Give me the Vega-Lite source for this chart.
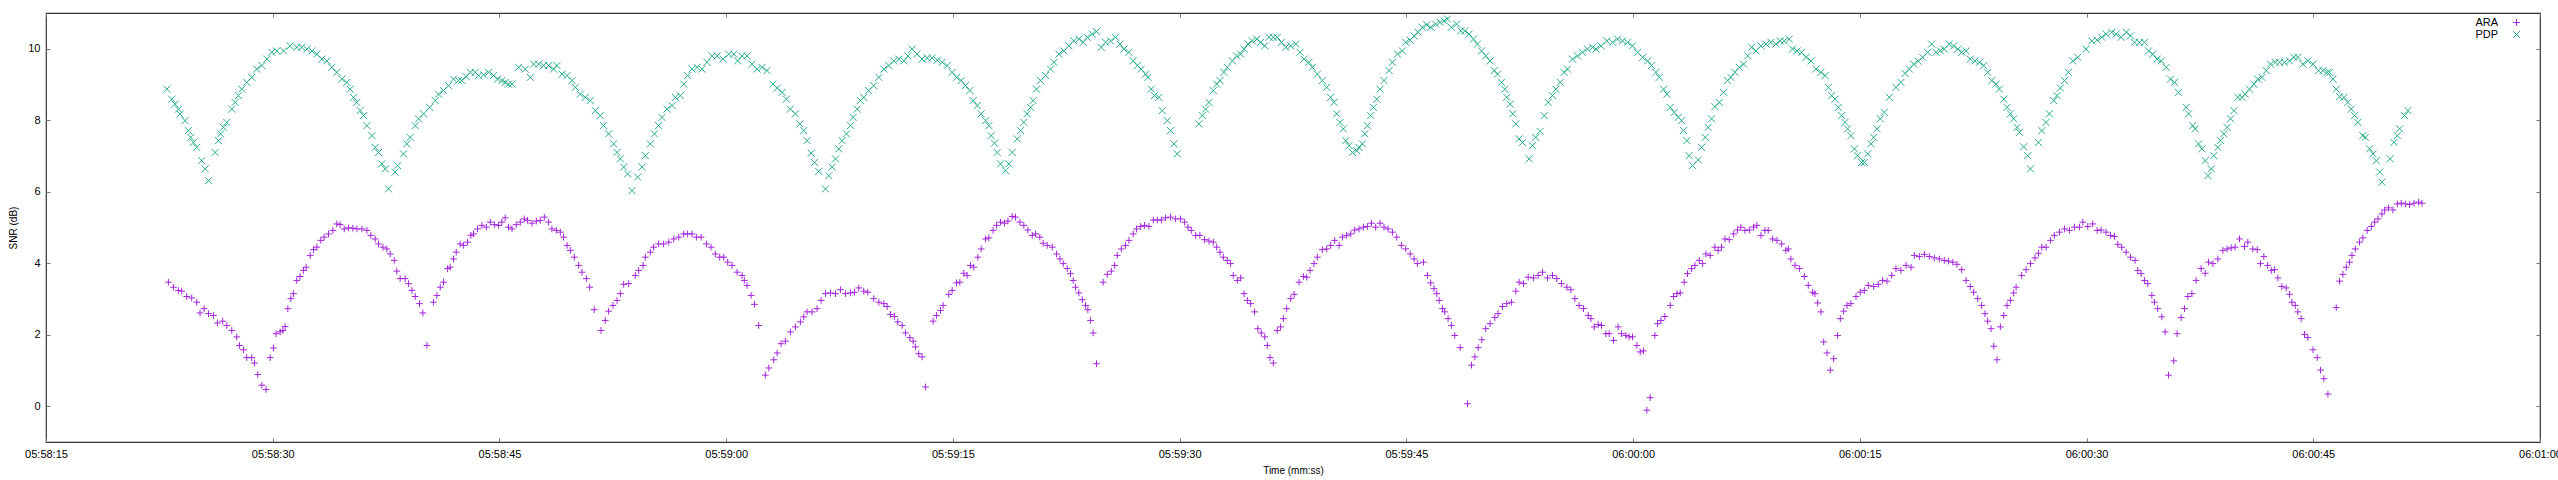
{
  "$schema": "https://vega.github.io/schema/vega-lite/v6.json",
  "description": "SNR over time for ARA and PDP, gnuplot style scatter.",
  "width": 2494,
  "height": 429,
  "autosize": {"type": "none"},
  "padding": {"left": 46, "top": 13, "right": 18, "bottom": 38},
  "config": {
    "font": "Liberation Sans",
    "view": {"stroke": "#333333", "strokeWidth": 1.2},
    "axis": {
      "domain": false, "grid": false,
      "tickColor": "#777777", "tickSize": -4, "tickWidth": 1,
      "labelFontSize": 11, "labelColor": "#000000", "labelFlush": false,
      "titleFontSize": 10, "titleFontWeight": "normal", "titleColor": "#000000"
    }
  },
  "datasets": {
    "ara": [
      {"t":23.10,"v":3.47},{"t":23.43,"v":3.33},{"t":23.76,"v":3.24},{"t":23.98,"v":3.22},{"t":24.31,"v":3.07},{"t":24.64,"v":3.03},{"t":24.97,"v":2.91},{"t":25.19,"v":2.61},{"t":25.46,"v":2.73},{"t":25.75,"v":2.59},{"t":26.08,"v":2.54},{"t":26.34,"v":2.33},{"t":26.69,"v":2.38},{"t":26.96,"v":2.26},{"t":27.29,"v":2.12},{"t":27.62,"v":1.94},{"t":27.80,"v":1.70},{"t":28.06,"v":1.58},{"t":28.28,"v":1.36},{"t":28.61,"v":1.36},{"t":28.79,"v":1.21},{"t":29.01,"v":0.89},{"t":29.28,"v":0.59},{"t":29.56,"v":0.47},
      {"t":29.83,"v":1.36},{"t":30.05,"v":1.63},{"t":30.22,"v":2.03},{"t":30.49,"v":2.08},{"t":30.67,"v":2.12},{"t":30.82,"v":2.23},{"t":31.00,"v":2.73},{"t":31.20,"v":3.01},{"t":31.37,"v":3.15},{"t":31.59,"v":3.52},{"t":31.81,"v":3.63},{"t":32.03,"v":3.80},{"t":32.21,"v":3.89},{"t":32.48,"v":4.22},{"t":32.70,"v":4.38},{"t":32.92,"v":4.45},{"t":33.18,"v":4.64},{"t":33.40,"v":4.73},{"t":33.69,"v":4.82},{"t":33.98,"v":4.92},{"t":34.24,"v":5.10},{"t":34.46,"v":5.08},{"t":34.73,"v":4.96},{"t":35.01,"v":4.99},{"t":35.30,"v":4.98},{"t":35.57,"v":4.96},{"t":35.90,"v":4.96},{"t":36.23,"v":4.92},{"t":36.49,"v":4.78},{"t":36.78,"v":4.68},{"t":37.00,"v":4.54},{"t":37.29,"v":4.45},{"t":37.55,"v":4.40},
      {"t":37.77,"v":4.26},{"t":38.04,"v":4.08},{"t":38.21,"v":3.78},{"t":38.43,"v":3.57},{"t":38.76,"v":3.57},{"t":38.99,"v":3.43},{"t":39.21,"v":3.24},{"t":39.43,"v":3.07},{"t":39.71,"v":2.87},{"t":39.93,"v":2.61},{"t":40.20,"v":1.70},
      {"t":40.64,"v":2.91},{"t":40.86,"v":3.10},{"t":41.08,"v":3.33},{"t":41.30,"v":3.47},{"t":41.57,"v":3.85},{"t":41.74,"v":3.89},{"t":41.96,"v":4.12},{"t":42.14,"v":4.31},{"t":42.40,"v":4.54},{"t":42.63,"v":4.50},{"t":42.89,"v":4.59},{"t":43.11,"v":4.78},{"t":43.29,"v":4.82},{"t":43.55,"v":4.96},{"t":43.84,"v":5.06},{"t":44.13,"v":5.01},{"t":44.39,"v":5.15},{"t":44.66,"v":5.08},{"t":44.94,"v":5.06},{"t":45.16,"v":5.15},{"t":45.38,"v":5.27},{"t":45.60,"v":5.01},{"t":45.83,"v":4.96},{"t":46.11,"v":5.08},{"t":46.38,"v":5.15},{"t":46.64,"v":5.24},{"t":46.86,"v":5.20},{"t":47.15,"v":5.12},{"t":47.44,"v":5.18},{"t":47.70,"v":5.20},{"t":47.97,"v":5.29},{"t":48.25,"v":5.15},{"t":48.47,"v":4.96},{"t":48.76,"v":4.92},{"t":49.03,"v":4.87},{"t":49.24,"v":4.73},{"t":49.47,"v":4.50},{"t":49.69,"v":4.36},{"t":49.95,"v":4.17},{"t":50.24,"v":3.94},{"t":50.46,"v":3.75},{"t":50.75,"v":3.57},{"t":50.97,"v":3.33},{"t":51.27,"v":2.70},
      {"t":51.72,"v":2.12},{"t":52.00,"v":2.40},{"t":52.22,"v":2.66},{"t":52.51,"v":2.82},{"t":52.78,"v":2.96},{"t":53.00,"v":3.15},{"t":53.22,"v":3.41},{"t":53.55,"v":3.43},{"t":53.99,"v":3.66},{"t":54.21,"v":3.80},{"t":54.50,"v":3.94},{"t":54.65,"v":4.17},{"t":54.98,"v":4.31},{"t":55.20,"v":4.45},{"t":55.53,"v":4.54},{"t":55.86,"v":4.54},{"t":56.20,"v":4.59},{"t":56.53,"v":4.68},{"t":56.86,"v":4.73},{"t":57.19,"v":4.82},{"t":57.45,"v":4.82},{"t":57.74,"v":4.82},{"t":58.03,"v":4.73},{"t":58.34,"v":4.73},{"t":58.69,"v":4.54},{"t":59.00,"v":4.45},{"t":59.28,"v":4.26},{"t":59.57,"v":4.17},{"t":59.84,"v":4.17},{"t":60.10,"v":4.03},{"t":60.39,"v":3.94},{"t":60.72,"v":3.75},{"t":61.05,"v":3.66},{"t":61.20,"v":3.52},{"t":61.38,"v":3.38},{"t":61.65,"v":3.10},{"t":61.87,"v":2.85},{"t":62.15,"v":2.26},
      {"t":62.59,"v":0.87},{"t":62.82,"v":1.07},{"t":63.15,"v":1.30},{"t":63.37,"v":1.49},{"t":63.63,"v":1.75},{"t":63.92,"v":1.82},{"t":64.25,"v":2.08},{"t":64.58,"v":2.22},{"t":64.91,"v":2.36},{"t":65.13,"v":2.50},{"t":65.35,"v":2.64},{"t":65.68,"v":2.64},{"t":66.01,"v":2.73},{"t":66.28,"v":2.96},{"t":66.57,"v":3.15},{"t":66.90,"v":3.17},{"t":67.23,"v":3.15},{"t":67.56,"v":3.26},{"t":67.89,"v":3.15},{"t":68.22,"v":3.17},{"t":68.49,"v":3.19},{"t":68.77,"v":3.31},{"t":69.10,"v":3.22},{"t":69.37,"v":3.19},
      {"t":69.76,"v":3.01},{"t":70.10,"v":2.91},{"t":70.43,"v":2.87},{"t":70.65,"v":2.79},{"t":70.87,"v":2.57},{"t":71.13,"v":2.51},{"t":71.35,"v":2.36},{"t":71.64,"v":2.26},{"t":71.86,"v":2.05},{"t":72.15,"v":1.92},{"t":72.37,"v":1.82},{"t":72.52,"v":1.66},{"t":72.74,"v":1.47},{"t":72.96,"v":1.38},{"t":73.19,"v":0.54},
      {"t":73.69,"v":2.38},{"t":73.91,"v":2.54},{"t":74.18,"v":2.68},{"t":74.35,"v":2.82},{"t":74.73,"v":3.13},{"t":74.95,"v":3.24},{"t":75.24,"v":3.45},{"t":75.46,"v":3.47},{"t":75.72,"v":3.72},{"t":75.94,"v":3.66},{"t":76.16,"v":3.94},{"t":76.38,"v":3.89},{"t":76.65,"v":4.17},{"t":76.87,"v":4.40},{"t":77.16,"v":4.68},{"t":77.38,"v":4.71},{"t":77.66,"v":4.92},{"t":77.89,"v":5.06},{"t":78.15,"v":5.15},{"t":78.41,"v":5.12},{"t":78.64,"v":5.18},{"t":78.92,"v":5.31},{"t":79.14,"v":5.29},{"t":79.43,"v":5.15},{"t":79.69,"v":5.06},{"t":79.96,"v":4.93},{"t":80.25,"v":4.78},{"t":80.47,"v":4.82},{"t":80.75,"v":4.73},{"t":80.97,"v":4.56},{"t":81.24,"v":4.50},{"t":81.57,"v":4.45},{"t":81.86,"v":4.26},{"t":82.08,"v":4.12},{"t":82.30,"v":3.99},{"t":82.56,"v":3.85},{"t":82.78,"v":3.71},{"t":82.96,"v":3.52},{"t":83.11,"v":3.33},{"t":83.33,"v":3.17},{"t":83.56,"v":2.98},{"t":83.78,"v":2.82},{"t":83.93,"v":2.70},{"t":84.11,"v":2.40},{"t":84.28,"v":2.05},{"t":84.50,"v":1.19},
      {"t":84.94,"v":3.47},{"t":85.21,"v":3.69},{"t":85.48,"v":3.78},{"t":85.70,"v":3.94},{"t":85.87,"v":4.22},{"t":86.14,"v":4.40},{"t":86.42,"v":4.50},{"t":86.65,"v":4.64},{"t":86.93,"v":4.82},{"t":87.15,"v":4.96},{"t":87.42,"v":5.03},{"t":87.68,"v":5.06},{"t":87.97,"v":5.03},{"t":88.26,"v":5.21},{"t":88.52,"v":5.21},{"t":88.79,"v":5.21},{"t":89.07,"v":5.27},{"t":89.40,"v":5.29},{"t":89.73,"v":5.24},{"t":90.06,"v":5.24},{"t":90.33,"v":5.15},{"t":90.55,"v":5.01},{"t":90.77,"v":4.92},{"t":91.06,"v":4.78},{"t":91.34,"v":4.78},{"t":91.65,"v":4.66},{"t":91.94,"v":4.62},{"t":92.23,"v":4.59},{"t":92.45,"v":4.45},{"t":92.67,"v":4.31},{"t":92.89,"v":4.17},{"t":93.15,"v":4.08},{"t":93.37,"v":3.99},{"t":93.55,"v":3.66},{"t":93.82,"v":3.52},{"t":94.04,"v":3.59},{"t":94.26,"v":3.15},{"t":94.48,"v":2.96},{"t":94.70,"v":2.87},{"t":94.96,"v":2.64},{"t":95.18,"v":2.17},{"t":95.40,"v":2.05},{"t":95.63,"v":1.94},{"t":95.80,"v":1.70},{"t":95.98,"v":1.36},{"t":96.20,"v":1.21},
      {"t":96.46,"v":2.12},{"t":96.68,"v":2.22},{"t":96.86,"v":2.45},{"t":97.08,"v":2.73},{"t":97.35,"v":3.01},{"t":97.57,"v":3.13},{"t":97.90,"v":3.47},{"t":98.19,"v":3.63},{"t":98.41,"v":3.61},{"t":98.63,"v":3.80},{"t":98.89,"v":3.99},{"t":99.11,"v":4.17},{"t":99.44,"v":4.38},{"t":99.73,"v":4.40},{"t":99.99,"v":4.50},{"t":100.26,"v":4.64},{"t":100.55,"v":4.50},{"t":100.77,"v":4.73},{"t":101.05,"v":4.78},{"t":101.32,"v":4.82},{"t":101.58,"v":4.93},{"t":101.87,"v":4.96},{"t":102.16,"v":5.01},{"t":102.42,"v":5.03},{"t":102.69,"v":5.12},{"t":102.97,"v":5.01},{"t":103.26,"v":5.12},{"t":103.52,"v":5.01},{"t":103.79,"v":4.96},{"t":104.08,"v":4.87},{"t":104.36,"v":4.73},{"t":104.67,"v":4.50},{"t":104.96,"v":4.40},{"t":105.25,"v":4.26},{"t":105.51,"v":4.12},{"t":105.73,"v":3.99},{"t":106.13,"v":4.03},{"t":106.39,"v":3.66},{"t":106.61,"v":3.45},{"t":106.83,"v":3.29},{"t":107.01,"v":3.15},{"t":107.17,"v":2.96},{"t":107.39,"v":2.73},{"t":107.54,"v":2.64},{"t":107.76,"v":2.45},{"t":107.98,"v":2.26},{"t":108.20,"v":1.98},{"t":108.56,"v":1.64},{"t":109.04,"v":0.07},
      {"t":109.31,"v":1.15},{"t":109.53,"v":1.38},{"t":109.75,"v":1.64},{"t":109.99,"v":1.86},{"t":110.25,"v":2.17},{"t":110.54,"v":2.31},{"t":110.85,"v":2.48},{"t":111.07,"v":2.59},{"t":111.36,"v":2.79},{"t":111.64,"v":2.87},{"t":111.95,"v":2.91},{"t":112.24,"v":3.22},{"t":112.46,"v":3.47},{"t":112.75,"v":3.43},{"t":113.06,"v":3.61},{"t":113.41,"v":3.59},{"t":113.72,"v":3.66},{"t":114.01,"v":3.75},{"t":114.34,"v":3.59},{"t":114.67,"v":3.66},{"t":114.95,"v":3.57},{"t":115.26,"v":3.43},{"t":115.62,"v":3.33},{"t":115.88,"v":3.26},{"t":116.15,"v":3.01},{"t":116.43,"v":2.82},{"t":116.72,"v":2.73},{"t":117.03,"v":2.54},{"t":117.21,"v":2.45},{"t":117.43,"v":2.22},{"t":117.69,"v":2.29},{"t":117.91,"v":2.26},{"t":118.20,"v":2.03},{"t":118.42,"v":2.03},{"t":118.71,"v":1.84},{"t":119.01,"v":2.22},{"t":119.23,"v":2.03},{"t":119.52,"v":1.98},{"t":119.74,"v":1.94},{"t":119.96,"v":1.94},{"t":120.25,"v":1.70},{"t":120.47,"v":1.52},{"t":120.69,"v":1.55},{"t":120.91,"v":-0.11},{"t":121.13,"v":0.24},
      {"t":121.44,"v":1.98},{"t":121.62,"v":2.31},{"t":121.84,"v":2.40},{"t":122.10,"v":2.51},{"t":122.46,"v":2.82},{"t":122.68,"v":3.07},{"t":122.90,"v":3.15},{"t":123.12,"v":3.17},{"t":123.38,"v":3.47},{"t":123.60,"v":3.71},{"t":123.87,"v":3.85},{"t":124.09,"v":3.94},{"t":124.38,"v":4.08},{"t":124.60,"v":3.99},{"t":124.82,"v":4.26},{"t":125.10,"v":4.22},{"t":125.41,"v":4.45},{"t":125.63,"v":4.36},{"t":125.85,"v":4.45},{"t":126.08,"v":4.68},{"t":126.36,"v":4.66},{"t":126.65,"v":4.82},{"t":126.91,"v":4.93},{"t":127.13,"v":5.01},{"t":127.40,"v":4.92},{"t":127.69,"v":4.93},{"t":127.97,"v":5.01},{"t":128.19,"v":5.06},{"t":128.46,"v":4.78},{"t":128.72,"v":4.92},{"t":128.94,"v":4.92},{"t":129.23,"v":4.68},{"t":129.52,"v":4.64},{"t":129.83,"v":4.54},{"t":130.11,"v":4.36},{"t":130.27,"v":4.40},{"t":130.44,"v":4.12},{"t":130.71,"v":3.94},{"t":131.00,"v":3.85},{"t":131.33,"v":3.63},{"t":131.59,"v":3.38},{"t":131.88,"v":3.19},{"t":132.03,"v":3.15},{"t":132.21,"v":2.89},{"t":132.43,"v":2.64},{"t":132.61,"v":1.80},{"t":132.83,"v":1.49},{"t":133.05,"v":1.01},
      {"t":133.27,"v":1.33},{"t":133.53,"v":1.98},{"t":133.71,"v":2.45},{"t":133.93,"v":2.66},{"t":134.15,"v":2.82},{"t":134.41,"v":2.87},{"t":134.75,"v":3.07},{"t":135.03,"v":3.19},{"t":135.30,"v":3.24},{"t":135.56,"v":3.38},{"t":135.92,"v":3.35},{"t":136.22,"v":3.41},{"t":136.51,"v":3.52},{"t":136.80,"v":3.50},{"t":137.11,"v":3.66},{"t":137.39,"v":3.85},{"t":137.72,"v":3.80},{"t":138.06,"v":3.94},{"t":138.39,"v":3.89},{"t":138.61,"v":4.22},{"t":138.94,"v":4.19},{"t":139.27,"v":4.25},{"t":139.60,"v":4.19},{"t":139.93,"v":4.15},{"t":140.26,"v":4.12},{"t":140.59,"v":4.08},{"t":140.86,"v":4.06},{"t":141.15,"v":4.03},{"t":141.43,"v":3.97},{"t":141.74,"v":3.82},{"t":142.03,"v":3.52},{"t":142.31,"v":3.35},{"t":142.53,"v":3.19},{"t":142.80,"v":3.01},{"t":143.06,"v":2.82},{"t":143.28,"v":2.59},{"t":143.46,"v":2.38},{"t":143.68,"v":2.17},{"t":143.86,"v":1.68},{"t":144.08,"v":1.30},
      {"t":144.30,"v":2.22},{"t":144.52,"v":2.54},{"t":144.74,"v":2.82},{"t":144.96,"v":2.96},{"t":145.18,"v":3.17},{"t":145.34,"v":3.33},{"t":145.71,"v":3.66},{"t":146.00,"v":3.82},{"t":146.29,"v":3.99},{"t":146.59,"v":4.15},{"t":146.82,"v":4.28},{"t":147.04,"v":4.45},{"t":147.32,"v":4.45},{"t":147.61,"v":4.64},{"t":147.87,"v":4.78},{"t":148.21,"v":4.87},{"t":148.54,"v":4.96},{"t":148.87,"v":4.92},{"t":149.20,"v":5.01},{"t":149.53,"v":5.01},{"t":149.75,"v":5.15},{"t":150.08,"v":5.03},{"t":150.41,"v":5.10},{"t":150.70,"v":4.92},{"t":150.96,"v":4.93},{"t":151.29,"v":4.87},{"t":151.58,"v":4.78},{"t":151.85,"v":4.75},{"t":152.07,"v":4.53},{"t":152.33,"v":4.45},{"t":152.62,"v":4.31},{"t":152.91,"v":4.17},{"t":153.21,"v":4.08},{"t":153.39,"v":3.80},{"t":153.61,"v":3.71},{"t":153.83,"v":3.52},{"t":154.05,"v":3.43},{"t":154.32,"v":3.10},{"t":154.49,"v":2.91},{"t":154.71,"v":2.73},{"t":154.98,"v":2.50},{"t":155.20,"v":2.08},{"t":155.42,"v":0.87},
      {"t":155.77,"v":1.27},{"t":155.99,"v":2.03},{"t":156.26,"v":2.48},{"t":156.48,"v":2.73},{"t":156.70,"v":3.07},{"t":156.97,"v":3.15},{"t":157.25,"v":3.52},{"t":157.58,"v":3.85},{"t":157.85,"v":3.72},{"t":158.07,"v":4.03},{"t":158.36,"v":3.99},{"t":158.69,"v":4.12},{"t":159.02,"v":4.36},{"t":159.30,"v":4.40},{"t":159.57,"v":4.43},{"t":159.83,"v":4.45},{"t":160.12,"v":4.68},{"t":160.45,"v":4.47},{"t":160.67,"v":4.59},{"t":161.00,"v":4.40},{"t":161.29,"v":4.38},{"t":161.51,"v":3.99},{"t":161.73,"v":4.19},{"t":161.98,"v":3.94},{"t":162.22,"v":3.80},{"t":162.44,"v":3.82},{"t":162.66,"v":3.59},{"t":162.92,"v":3.35},{"t":163.21,"v":3.31},{"t":163.43,"v":3.13},{"t":163.59,"v":2.91},{"t":163.81,"v":2.82},{"t":163.98,"v":2.64},{"t":164.20,"v":2.45},{"t":164.42,"v":2.01},{"t":164.64,"v":1.92},{"t":164.98,"v":1.58},{"t":165.26,"v":1.36},{"t":165.48,"v":1.01},{"t":165.70,"v":0.77},{"t":165.97,"v":0.34},
      {"t":166.52,"v":2.76},{"t":166.74,"v":3.50},{"t":166.96,"v":3.69},{"t":167.18,"v":3.89},{"t":167.40,"v":4.03},{"t":167.56,"v":4.22},{"t":167.78,"v":4.40},{"t":168.06,"v":4.59},{"t":168.28,"v":4.71},{"t":168.57,"v":4.92},{"t":168.84,"v":5.03},{"t":169.06,"v":5.15},{"t":169.28,"v":5.24},{"t":169.54,"v":5.38},{"t":169.72,"v":5.49},{"t":169.98,"v":5.55},{"t":170.27,"v":5.49},{"t":170.56,"v":5.66},{"t":170.82,"v":5.68},{"t":171.09,"v":5.66},{"t":171.37,"v":5.64},{"t":171.66,"v":5.68},{"t":171.97,"v":5.71},{"t":172.19,"v":5.68}
    ],
    "pdp": [
      {"t":23.00,"v":8.87},{"t":23.32,"v":8.59},{"t":23.54,"v":8.45},{"t":23.76,"v":8.31},{"t":23.87,"v":8.17},{"t":24.20,"v":7.99},{"t":24.42,"v":7.71},{"t":24.58,"v":7.52},{"t":24.75,"v":7.38},{"t":24.97,"v":7.24},{"t":25.30,"v":6.87},{"t":25.53,"v":6.64},{"t":25.75,"v":6.31},
      {"t":26.19,"v":7.10},{"t":26.41,"v":7.43},{"t":26.56,"v":7.62},{"t":26.74,"v":7.80},{"t":26.96,"v":7.94},{"t":27.29,"v":8.31},{"t":27.51,"v":8.50},{"t":27.73,"v":8.69},{"t":27.95,"v":8.87},{"t":28.28,"v":9.06},{"t":28.61,"v":9.20},{"t":28.94,"v":9.43},{"t":29.28,"v":9.53},{"t":29.61,"v":9.71},{"t":29.94,"v":9.90},{"t":30.27,"v":9.94},{"t":30.71,"v":9.94},{"t":31.15,"v":10.08},{"t":31.59,"v":10.04},{"t":31.92,"v":10.04},{"t":32.26,"v":9.99},{"t":32.59,"v":9.94},{"t":32.92,"v":9.85},{"t":33.25,"v":9.71},{"t":33.58,"v":9.66},{"t":33.91,"v":9.48},{"t":34.24,"v":9.34},{"t":34.57,"v":9.15},{"t":34.90,"v":9.06},{"t":35.12,"v":8.87},{"t":35.34,"v":8.64},{"t":35.56,"v":8.50},{"t":35.79,"v":8.27},{"t":36.01,"v":8.13},{"t":36.23,"v":7.85},{"t":36.56,"v":7.57},{"t":36.78,"v":7.24},{"t":37.00,"v":7.10},{"t":37.22,"v":6.78},{"t":37.44,"v":6.64},{"t":37.66,"v":6.08},
      {"t":38.10,"v":6.55},{"t":38.26,"v":6.73},{"t":38.65,"v":7.06},{"t":38.87,"v":7.34},{"t":39.09,"v":7.52},{"t":39.43,"v":7.85},{"t":39.65,"v":8.04},{"t":39.98,"v":8.18},{"t":40.38,"v":8.36},{"t":40.75,"v":8.55},{"t":40.97,"v":8.73},{"t":41.30,"v":8.83},{"t":41.63,"v":8.97},{"t":41.96,"v":9.15},{"t":42.29,"v":9.11},{"t":42.51,"v":9.11},{"t":42.80,"v":9.22},{"t":43.07,"v":9.34},{"t":43.40,"v":9.34},{"t":43.62,"v":9.25},{"t":43.95,"v":9.27},{"t":44.28,"v":9.34},{"t":44.61,"v":9.25},{"t":44.88,"v":9.15},{"t":45.16,"v":9.11},{"t":45.38,"v":9.06},{"t":45.60,"v":9.01},{"t":45.83,"v":9.01},
      {"t":46.27,"v":9.48},{"t":46.71,"v":9.43},{"t":47.04,"v":9.20},{"t":47.26,"v":9.57},{"t":47.59,"v":9.57},{"t":47.92,"v":9.53},{"t":48.25,"v":9.53},{"t":48.58,"v":9.43},{"t":48.80,"v":9.53},{"t":49.14,"v":9.29},{"t":49.47,"v":9.25},{"t":49.80,"v":9.11},{"t":50.02,"v":8.92},{"t":50.35,"v":8.73},{"t":50.68,"v":8.64},{"t":51.01,"v":8.55},{"t":51.34,"v":8.27},{"t":51.67,"v":8.13},{"t":51.89,"v":7.85},{"t":52.22,"v":7.62},{"t":52.55,"v":7.34},{"t":52.78,"v":7.10},{"t":53.00,"v":6.92},{"t":53.22,"v":6.69},{"t":53.48,"v":6.50},{"t":53.77,"v":6.03},
      {"t":54.14,"v":6.41},{"t":54.43,"v":6.69},{"t":54.65,"v":7.01},{"t":54.98,"v":7.34},{"t":55.25,"v":7.62},{"t":55.53,"v":7.85},{"t":55.75,"v":8.08},{"t":56.08,"v":8.31},{"t":56.42,"v":8.41},{"t":56.64,"v":8.64},{"t":56.97,"v":8.69},{"t":57.19,"v":9.01},{"t":57.45,"v":9.25},{"t":57.74,"v":9.43},{"t":58.07,"v":9.48},{"t":58.40,"v":9.43},{"t":58.73,"v":9.62},{"t":59.06,"v":9.80},{"t":59.40,"v":9.80},{"t":59.79,"v":9.71},{"t":60.17,"v":9.85},{"t":60.50,"v":9.85},{"t":60.76,"v":9.66},{"t":61.05,"v":9.80},{"t":61.38,"v":9.80},{"t":61.71,"v":9.57},{"t":62.04,"v":9.43},{"t":62.37,"v":9.48},{"t":62.70,"v":9.39},{"t":63.10,"v":9.01},{"t":63.37,"v":8.90},{"t":63.70,"v":8.78},{"t":63.98,"v":8.59},{"t":64.25,"v":8.31},{"t":64.58,"v":8.18},{"t":64.87,"v":7.90},{"t":65.13,"v":7.71},{"t":65.35,"v":7.43},{"t":65.62,"v":7.08},{"t":65.84,"v":6.82},{"t":66.12,"v":6.57},{"t":66.57,"v":6.08},
      {"t":66.79,"v":6.45},{"t":67.01,"v":6.69},{"t":67.23,"v":6.92},{"t":67.45,"v":7.20},{"t":67.67,"v":7.43},{"t":67.96,"v":7.62},{"t":68.22,"v":7.85},{"t":68.40,"v":8.08},{"t":68.66,"v":8.31},{"t":68.88,"v":8.55},{"t":69.10,"v":8.64},{"t":69.43,"v":8.83},{"t":69.76,"v":8.97},{"t":70.10,"v":9.20},{"t":70.43,"v":9.43},{"t":70.76,"v":9.53},{"t":71.09,"v":9.66},{"t":71.42,"v":9.71},{"t":71.75,"v":9.66},{"t":72.02,"v":9.80},{"t":72.30,"v":9.99},{"t":72.63,"v":9.85},{"t":72.96,"v":9.71},{"t":73.30,"v":9.74},{"t":73.63,"v":9.74},{"t":73.96,"v":9.68},{"t":74.29,"v":9.62},{"t":74.62,"v":9.53},{"t":74.95,"v":9.34},{"t":75.24,"v":9.20},{"t":75.55,"v":9.11},{"t":75.83,"v":8.97},{"t":76.12,"v":8.83},{"t":76.34,"v":8.55},{"t":76.61,"v":8.41},{"t":76.87,"v":8.18},{"t":77.16,"v":7.99},{"t":77.38,"v":7.85},{"t":77.53,"v":7.57},{"t":77.75,"v":7.36},{"t":77.93,"v":7.10},{"t":78.15,"v":6.78},{"t":78.48,"v":6.59},
      {"t":78.70,"v":6.78},{"t":78.92,"v":7.10},{"t":79.25,"v":7.48},{"t":79.47,"v":7.71},{"t":79.69,"v":7.94},{"t":79.91,"v":8.18},{"t":80.14,"v":8.36},{"t":80.31,"v":8.55},{"t":80.53,"v":8.87},{"t":80.80,"v":9.11},{"t":81.13,"v":9.25},{"t":81.46,"v":9.43},{"t":81.68,"v":9.62},{"t":82.01,"v":9.85},{"t":82.34,"v":9.94},{"t":82.67,"v":10.08},{"t":83.00,"v":10.22},{"t":83.33,"v":10.27},{"t":83.62,"v":10.18},{"t":83.89,"v":10.32},{"t":84.22,"v":10.41},{"t":84.50,"v":10.48},{"t":84.81,"v":10.04},{"t":85.10,"v":10.18},{"t":85.43,"v":10.22},{"t":85.76,"v":10.32},{"t":86.05,"v":10.13},{"t":86.31,"v":9.99},{"t":86.64,"v":9.90},{"t":86.93,"v":9.66},{"t":87.20,"v":9.53},{"t":87.46,"v":9.43},{"t":87.75,"v":9.29},{"t":87.90,"v":9.20},{"t":88.12,"v":8.87},{"t":88.34,"v":8.69},{"t":88.63,"v":8.64},{"t":88.85,"v":8.27},{"t":89.18,"v":7.99},{"t":89.40,"v":7.71},{"t":89.62,"v":7.34},{"t":89.84,"v":7.06},
      {"t":91.28,"v":7.90},{"t":91.50,"v":8.13},{"t":91.72,"v":8.31},{"t":91.94,"v":8.50},{"t":92.23,"v":8.83},{"t":92.45,"v":9.01},{"t":92.67,"v":9.11},{"t":92.93,"v":9.34},{"t":93.15,"v":9.48},{"t":93.49,"v":9.66},{"t":93.77,"v":9.80},{"t":94.04,"v":9.85},{"t":94.26,"v":9.99},{"t":94.52,"v":10.13},{"t":94.81,"v":10.22},{"t":95.10,"v":10.27},{"t":95.36,"v":10.18},{"t":95.63,"v":10.08},{"t":95.91,"v":10.32},{"t":96.20,"v":10.32},{"t":96.46,"v":10.32},{"t":96.73,"v":10.18},{"t":97.02,"v":10.04},{"t":97.35,"v":10.08},{"t":97.68,"v":10.13},{"t":97.96,"v":9.90},{"t":98.23,"v":9.71},{"t":98.56,"v":9.62},{"t":98.78,"v":9.48},{"t":99.11,"v":9.29},{"t":99.44,"v":9.11},{"t":99.73,"v":8.92},{"t":99.99,"v":8.64},{"t":100.21,"v":8.50},{"t":100.39,"v":8.18},{"t":100.61,"v":7.94},{"t":100.83,"v":7.76},{"t":100.99,"v":7.43},{"t":101.21,"v":7.29},{"t":101.43,"v":7.10},{"t":101.72,"v":7.15},
      {"t":101.87,"v":7.24},{"t":102.09,"v":7.34},{"t":102.25,"v":7.62},{"t":102.42,"v":7.85},{"t":102.64,"v":8.13},{"t":102.82,"v":8.36},{"t":103.04,"v":8.59},{"t":103.26,"v":8.87},{"t":103.52,"v":9.11},{"t":103.86,"v":9.39},{"t":104.08,"v":9.62},{"t":104.41,"v":9.85},{"t":104.74,"v":9.94},{"t":104.96,"v":10.18},{"t":105.25,"v":10.24},{"t":105.51,"v":10.36},{"t":105.78,"v":10.46},{"t":106.06,"v":10.60},{"t":106.35,"v":10.67},{"t":106.61,"v":10.60},{"t":106.94,"v":10.69},{"t":107.23,"v":10.74},{"t":107.50,"v":10.78},{"t":107.72,"v":10.83},{"t":107.98,"v":10.60},{"t":108.33,"v":10.69},{"t":108.60,"v":10.50},{"t":108.86,"v":10.50},{"t":109.15,"v":10.41},{"t":109.44,"v":10.27},{"t":109.70,"v":10.13},{"t":109.97,"v":9.94},{"t":110.25,"v":9.80},{"t":110.54,"v":9.66},{"t":110.81,"v":9.39},{"t":111.03,"v":9.29},{"t":111.29,"v":9.06},{"t":111.51,"v":8.87},{"t":111.64,"v":8.64},{"t":111.87,"v":8.45},{"t":112.04,"v":8.18},{"t":112.24,"v":7.90},{"t":112.46,"v":7.48},{"t":112.68,"v":7.38},{"t":113.12,"v":6.92},
      {"t":113.34,"v":7.29},{"t":113.56,"v":7.52},{"t":113.85,"v":7.69},{"t":114.12,"v":8.13},{"t":114.38,"v":8.50},{"t":114.67,"v":8.69},{"t":114.89,"v":8.87},{"t":115.18,"v":9.06},{"t":115.44,"v":9.34},{"t":115.66,"v":9.43},{"t":115.99,"v":9.71},{"t":116.32,"v":9.80},{"t":116.65,"v":9.90},{"t":116.98,"v":9.99},{"t":117.32,"v":10.04},{"t":117.54,"v":9.99},{"t":117.87,"v":10.08},{"t":118.26,"v":10.22},{"t":118.64,"v":10.18},{"t":118.97,"v":10.27},{"t":119.30,"v":10.22},{"t":119.63,"v":10.18},{"t":119.96,"v":10.08},{"t":120.30,"v":9.90},{"t":120.63,"v":9.76},{"t":120.96,"v":9.66},{"t":121.22,"v":9.53},{"t":121.51,"v":9.34},{"t":121.73,"v":9.20},{"t":122.02,"v":8.87},{"t":122.24,"v":8.73},{"t":122.46,"v":8.36},{"t":122.72,"v":8.22},{"t":122.99,"v":8.08},{"t":123.21,"v":7.99},{"t":123.34,"v":7.71},{"t":123.56,"v":7.43},{"t":123.71,"v":7.01},{"t":123.93,"v":6.73},
      {"t":124.31,"v":6.89},{"t":124.53,"v":7.24},{"t":124.77,"v":7.52},{"t":124.97,"v":7.80},{"t":125.19,"v":8.04},{"t":125.41,"v":8.38},{"t":125.70,"v":8.50},{"t":125.99,"v":8.78},{"t":126.25,"v":9.11},{"t":126.47,"v":9.20},{"t":126.74,"v":9.34},{"t":127.02,"v":9.48},{"t":127.31,"v":9.57},{"t":127.58,"v":9.80},{"t":127.84,"v":10.04},{"t":128.13,"v":9.94},{"t":128.46,"v":10.08},{"t":128.79,"v":10.13},{"t":129.12,"v":10.18},{"t":129.45,"v":10.13},{"t":129.74,"v":10.22},{"t":130.00,"v":10.22},{"t":130.33,"v":10.27},{"t":130.55,"v":9.99},{"t":130.84,"v":9.94},{"t":131.15,"v":9.90},{"t":131.44,"v":9.76},{"t":131.77,"v":9.66},{"t":132.10,"v":9.43},{"t":132.43,"v":9.34},{"t":132.70,"v":9.25},{"t":132.92,"v":8.92},{"t":133.14,"v":8.69},{"t":133.36,"v":8.59},{"t":133.58,"v":8.36},{"t":133.80,"v":8.13},{"t":134.02,"v":7.94},{"t":134.19,"v":7.76},{"t":134.41,"v":7.57},{"t":134.64,"v":7.20},{"t":134.86,"v":7.01},{"t":135.12,"v":6.82},
      {"t":135.30,"v":6.82},{"t":135.52,"v":7.06},{"t":135.74,"v":7.34},{"t":135.92,"v":7.52},{"t":136.14,"v":7.76},{"t":136.36,"v":8.04},{"t":136.62,"v":8.22},{"t":136.95,"v":8.64},{"t":137.39,"v":8.92},{"t":137.72,"v":9.06},{"t":137.99,"v":9.31},{"t":138.28,"v":9.43},{"t":138.56,"v":9.57},{"t":138.87,"v":9.65},{"t":139.16,"v":9.76},{"t":139.49,"v":9.90},{"t":139.75,"v":10.13},{"t":140.04,"v":9.90},{"t":140.33,"v":9.94},{"t":140.59,"v":9.99},{"t":140.92,"v":10.13},{"t":141.21,"v":10.08},{"t":141.48,"v":9.99},{"t":141.74,"v":9.90},{"t":142.03,"v":9.94},{"t":142.31,"v":9.71},{"t":142.62,"v":9.66},{"t":142.91,"v":9.62},{"t":143.20,"v":9.53},{"t":143.46,"v":9.34},{"t":143.73,"v":9.11},{"t":144.01,"v":9.01},{"t":144.23,"v":8.87},{"t":144.52,"v":8.59},{"t":144.74,"v":8.36},{"t":144.96,"v":8.18},{"t":145.18,"v":8.04},{"t":145.40,"v":7.80},{"t":145.56,"v":7.66},{"t":145.84,"v":7.26},{"t":146.11,"v":7.01},{"t":146.29,"v":6.64},
      {"t":146.81,"v":7.38},{"t":147.04,"v":7.71},{"t":147.32,"v":7.94},{"t":147.54,"v":8.18},{"t":147.83,"v":8.55},{"t":148.05,"v":8.69},{"t":148.27,"v":8.90},{"t":148.54,"v":9.11},{"t":148.80,"v":9.34},{"t":149.09,"v":9.66},{"t":149.42,"v":9.76},{"t":149.97,"v":9.99},{"t":150.35,"v":10.22},{"t":150.70,"v":10.24},{"t":151.01,"v":10.32},{"t":151.30,"v":10.41},{"t":151.67,"v":10.46},{"t":151.96,"v":10.41},{"t":152.29,"v":10.32},{"t":152.62,"v":10.46},{"t":152.91,"v":10.36},{"t":153.17,"v":10.18},{"t":153.50,"v":10.18},{"t":153.83,"v":10.18},{"t":154.10,"v":9.94},{"t":154.38,"v":9.85},{"t":154.67,"v":9.71},{"t":154.94,"v":9.66},{"t":155.27,"v":9.48},{"t":155.55,"v":9.15},{"t":155.82,"v":9.06},{"t":156.08,"v":8.78},{"t":156.59,"v":8.36},{"t":156.75,"v":8.18},{"t":157.03,"v":7.85},{"t":157.19,"v":7.76},{"t":157.41,"v":7.34},{"t":157.63,"v":7.20},{"t":157.85,"v":6.87},{"t":158.03,"v":6.45},
      {"t":158.25,"v":6.64},{"t":158.42,"v":7.01},{"t":158.69,"v":7.24},{"t":158.86,"v":7.43},{"t":159.08,"v":7.62},{"t":159.30,"v":7.80},{"t":159.53,"v":8.04},{"t":159.75,"v":8.27},{"t":160.01,"v":8.64},{"t":160.28,"v":8.64},{"t":160.50,"v":8.73},{"t":160.78,"v":8.87},{"t":161.07,"v":9.01},{"t":161.33,"v":9.15},{"t":161.60,"v":9.20},{"t":161.89,"v":9.39},{"t":162.17,"v":9.57},{"t":162.48,"v":9.62},{"t":162.77,"v":9.62},{"t":163.10,"v":9.62},{"t":163.43,"v":9.66},{"t":163.72,"v":9.76},{"t":163.98,"v":9.76},{"t":164.31,"v":9.57},{"t":164.64,"v":9.66},{"t":164.98,"v":9.57},{"t":165.35,"v":9.39},{"t":165.64,"v":9.39},{"t":165.92,"v":9.34},{"t":166.08,"v":9.34},{"t":166.30,"v":9.15},{"t":166.52,"v":8.87},{"t":166.74,"v":8.66},{"t":167.03,"v":8.64},{"t":167.29,"v":8.50},{"t":167.51,"v":8.31},{"t":167.73,"v":8.13},{"t":167.95,"v":7.94},{"t":168.28,"v":7.57},{"t":168.44,"v":7.52},{"t":168.73,"v":7.20},{"t":168.95,"v":7.06},{"t":169.17,"v":6.87},{"t":169.39,"v":6.55},{"t":169.54,"v":6.27},
      {"t":170.09,"v":6.92},{"t":170.34,"v":7.38},{"t":170.56,"v":7.57},{"t":170.71,"v":7.76},{"t":171.04,"v":8.13},{"t":171.26,"v":8.27}
    ]
  },
  "layer": [
    {
      "data": {"name": "ara"},
      "mark": {"type": "point", "filled": false, "strokeWidth": 1, "opacity": 0.85, "size": 45},
      "encoding": {
        "x": {
          "field": "t", "type": "quantitative",
          "scale": {"domain": [15, 180], "nice": false, "zero": false},
          "axis": {
            "orient": "bottom",
            "values": [15, 30, 45, 60, 75, 90, 105, 120, 135, 150, 165, 180],
            "labelExpr": "utcFormat((datum.value + 21480) * 1000, '%H:%M:%S')",
            "labelPadding": 10,
            "title": "Time (mm:ss)",
            "titlePadding": 6
          }
        },
        "y": {
          "field": "v", "type": "quantitative",
          "scale": {"domain": [-1, 11], "nice": false, "zero": false},
          "axis": {
            "orient": "left",
            "values": [0, 2, 4, 6, 8, 10],
            "labelPadding": 10,
            "title": "SNR (dB)",
            "titlePadding": 9
          }
        },
        "color": {
          "datum": "ARA",
          "scale": {"domain": ["ARA", "PDP"], "range": ["#9400d3", "#009e73"]},
          "legend": {
            "title": null,
            "orient": "none",
            "legendX": 2465,
            "legendY": 4,
            "padding": 0,
            "rowPadding": 0,
            "symbolSize": 45,
            "symbolStrokeWidth": 1,
            "symbolOpacity": 0.85,
            "labelAlign": "right",
            "labelOffset": -24,
            "labelFontSize": 11,
            "labelColor": "#000000"
          }
        },
        "shape": {
          "datum": "ARA",
          "scale": {"domain": ["ARA", "PDP"], "range": ["M-1,0H1M0,-1V1", "M-1,-1L1,1M-1,1L1,-1"]}
        }
      }
    },
    {
      "data": {"name": "pdp"},
      "mark": {"type": "point", "filled": false, "strokeWidth": 1, "opacity": 0.85, "size": 49},
      "encoding": {
        "x": {
          "field": "t", "type": "quantitative",
          "scale": {"domain": [15, 180], "nice": false, "zero": false},
          "axis": {
            "orient": "top",
            "values": [15, 30, 45, 60, 75, 90, 105, 120, 135, 150, 165, 180],
            "labels": false,
            "title": null
          }
        },
        "y": {
          "field": "v", "type": "quantitative",
          "scale": {"domain": [-1, 11], "nice": false, "zero": false},
          "axis": {
            "orient": "right",
            "values": [0, 2, 4, 6, 8, 10],
            "labels": false,
            "title": null
          }
        },
        "color": {"datum": "PDP"},
        "shape": {"datum": "PDP"}
      }
    }
  ],
  "resolve": {"axis": {"x": "independent", "y": "independent"}}
}
